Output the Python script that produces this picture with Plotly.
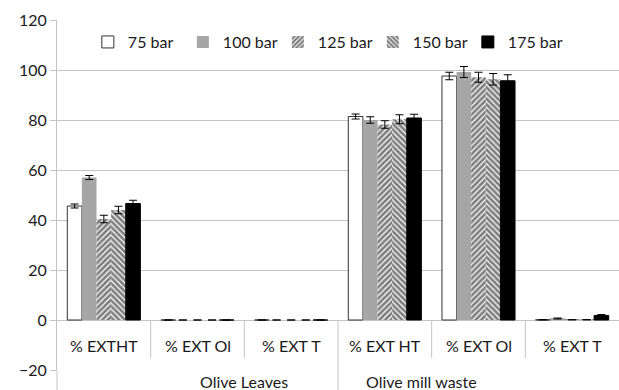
import plotly.graph_objects as go

groups = ["Olive Leaves"] * 3 + ["Olive mill waste"] * 3
categories = ["% EXTHT", "% EXT Ol", "% EXT T", "% EXT HT", "% EXT Ol", "% EXT T"]
series_names = ["75 bar", "100 bar", "125 bar", "150 bar", "175 bar"]

v75 = [45.6, 0, 0, 81.4, 97.6, 0.1]
v100 = [57.0, 0, 0, 80.0, 99.2, 0.6]
v125 = [40.4, 0, 0, 78.2, 97.1, 0.1]
v150 = [44.0, 0, 0, 80.3, 96.3, 0.1]
v175 = [46.6, 0, 0, 80.8, 95.7, 1.8]

e75 = [0.8, 0, 0, 1.0, 1.5, 0]
e100 = [0.8, 0, 0, 1.3, 2.2, 0.2]
e125 = [1.5, 0, 0, 1.5, 2.0, 0]
e150 = [1.5, 0, 0, 1.8, 2.3, 0]
e175 = [1.3, 0, 0, 1.5, 2.4, 0.4]

y_ticks = [-20, 0, 20, 40, 60, 80, 100, 120]

FONT = "Lato"
TXT = "#1a1a1a"
GRID = "#c4c4c4"

# unique category keys (group + category) keep the original order on a category axis
x_keys = [g + " | " + c for g, c in zip(groups, categories)]

styles = [
    dict(color="white", line=dict(color="#333333", width=1)),
    dict(color="#a6a6a6", line=dict(color="#a6a6a6", width=0)),
    dict(color="white", line=dict(color="#555555", width=0),
         pattern=dict(shape="/", fgcolor="black", bgcolor="white", size=4, solidity=0.7)),
    dict(color="white", line=dict(color="#555555", width=0),
         pattern=dict(shape="\\", fgcolor="black", bgcolor="white", size=4, solidity=0.7)),
    dict(color="black", line=dict(color="black", width=1)),
]
values = [v75, v100, v125, v150, v175]
errors = [e75, e100, e125, e150, e175]

fig = go.Figure()
for name, vals, errs, st in zip(series_names, values, errors, styles):
    fig.add_trace(go.Bar(
        x=x_keys, y=vals, name=name, marker=st,
        error_y=dict(type="data", array=errs, visible=True, color="black",
                     thickness=1, width=4),
    ))

ymin, ymax = y_ticks[0], y_ticks[-1]
ncat = len(categories)

annotations = []
for k, c in zip(x_keys, categories):
    annotations.append(dict(x=k, y=(ymin + 0) / 2, xref="x", yref="y", text=c,
                            showarrow=False, font=dict(family=FONT, size=16, color=TXT)))
group_names = ["Olive Leaves", "Olive mill waste"]
for g in group_names:
    idx = [i for i, gg in enumerate(groups) if gg == g]
    cx = (sum(idx) / len(idx) + 0.5) / ncat
    annotations.append(dict(x=cx, y=-0.034, xref="paper", yref="paper", text=g,
                            showarrow=False, yanchor="middle",
                            font=dict(family=FONT, size=16, color=TXT)))

shapes = []
zero_paper = (0 - ymin) / (ymax - ymin)
for i in range(1, ncat):
    xp = i / ncat
    if groups[i] != groups[i - 1]:
        shapes.append(dict(type="line", xref="paper", yref="paper", x0=xp, x1=xp,
                           y0=zero_paper, y1=-0.06, line=dict(color=GRID, width=1)))
    else:
        shapes.append(dict(type="line", xref="paper", yref="paper", x0=xp, x1=xp,
                           y0=zero_paper, y1=zero_paper - 38 / 350,
                           line=dict(color=GRID, width=1)))
# extension of the value axis line below the plot area
shapes.append(dict(type="line", xref="paper", yref="paper", x0=0, x1=0,
                   y0=0, y1=-0.06, line=dict(color=GRID, width=1)))

fig.update_layout(
    width=619, height=390,
    margin=dict(l=57, r=0, t=20, b=20),
    paper_bgcolor="white", plot_bgcolor="white",
    barmode="group", bargap=0.22, bargroupgap=0,
    font=dict(family=FONT, size=16, color=TXT),
    showlegend=True,
    legend=dict(orientation="h", x=0.4775, xanchor="center", y=0.937, yanchor="middle",
                font=dict(family=FONT, size=16, color=TXT), bgcolor="rgba(0,0,0,0)",
                itemwidth=30, traceorder="normal", entrywidth=50, entrywidthmode="pixels"),
    annotations=annotations,
    shapes=shapes,
)
fig.update_xaxes(type="category", showticklabels=False, showline=False, showgrid=False,
                 ticks="", automargin=False)
fig.update_yaxes(range=[ymin, ymax], tickvals=y_ticks, showgrid=True, gridcolor=GRID,
                 gridwidth=1, zeroline=True, zerolinecolor=GRID, zerolinewidth=1,
                 showline=True, linecolor=GRID, linewidth=1, ticks="outside",
                 ticklen=6, tickcolor=GRID, automargin=False,
                 tickfont=dict(family=FONT, size=16, color=TXT))

fig.write_html("out.html")
